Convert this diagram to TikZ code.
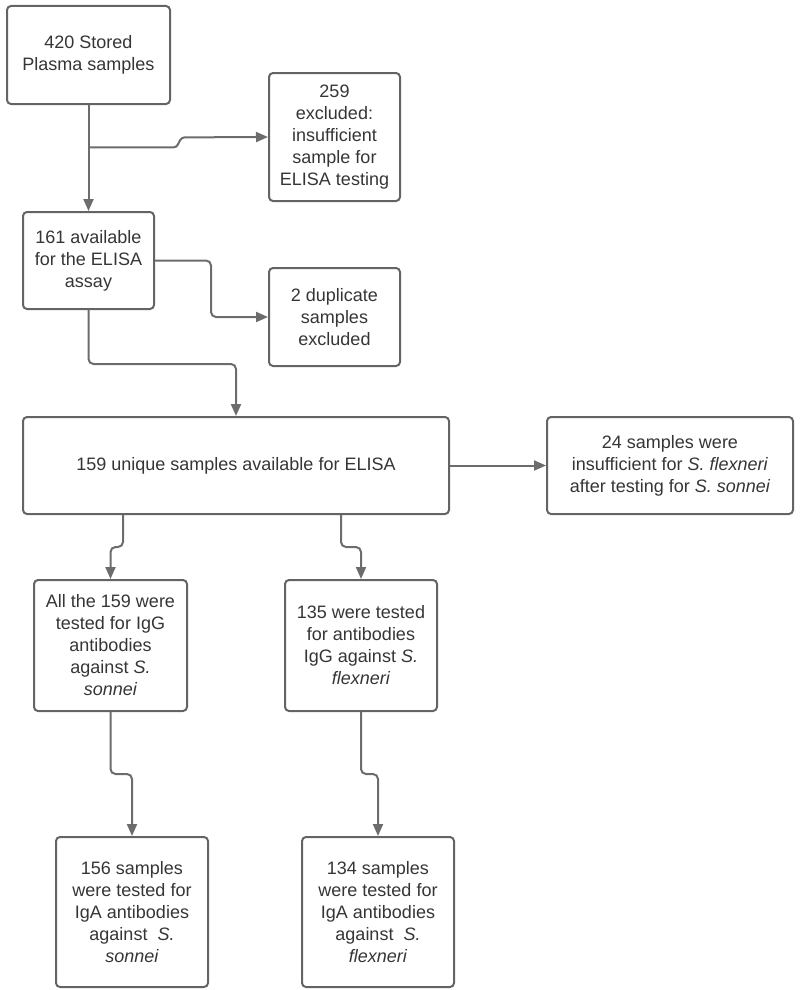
\documentclass[tikz,border=0pt]{standalone}
\usepackage{fontspec}
\setmainfont{Liberation Sans}
\usetikzlibrary{arrows.meta,calc}
\definecolor{txt}{HTML}{353535}
\definecolor{edge}{HTML}{646464}
\definecolor{conn}{HTML}{6C6C6C}
\begin{document}
\begin{tikzpicture}[x=1pt,y=-1pt,
  box/.style={draw=edge,line width=2pt,rounded corners=4pt,inner sep=0pt,align=center,
    text=txt,font=\fontsize{18}{22}\selectfont},
  conn/.style={draw=conn,line width=2pt,rounded corners=5pt,
    -{Triangle[length=12pt,width=10pt]}}]
\useasboundingbox (0,0) rectangle (800,990);
\node[box,minimum width=163pt,minimum height=98pt] (n1) at (88.5,55) {420 Stored\\Plasma samples};
\node[box,minimum width=131pt,minimum height=128pt] (n2) at (334.5,137) {259\\excluded:\\insufficient\\sample for\\ELISA testing};
\node[box,minimum width=131pt,minimum height=97pt] (n3) at (88.5,260.5) {161 available\\for the ELISA\\assay};
\node[box,minimum width=131pt,minimum height=98pt] (n4) at (334.5,317) {2 duplicate\\samples\\excluded};
\node[box,minimum width=426pt,minimum height=97pt] (n5) at (236,465.5) {159 unique samples available for ELISA};
\node[box,minimum width=246pt,minimum height=97pt] (n6) at (670,465.5) {24 samples were\\insufficient for \textit{S. flexneri}\\after testing for \textit{S. sonnei}};
\node[box,minimum width=153pt,minimum height=131pt] (n7) at (110.5,645.5) {All the 159 were\\tested for IgG\\antibodies\\against \textit{S.}\\\textit{sonnei}};
\node[box,minimum width=152pt,minimum height=131pt] (n8) at (361,645.5) {135 were tested\\for antibodies\\IgG against \textit{S.}\\\textit{flexneri}};
\node[box,minimum width=152pt,minimum height=150pt] (n9) at (132,912) {156 samples\\were tested for\\IgA antibodies\\against~~\textit{S.}\\\textit{sonnei}};
\node[box,minimum width=152pt,minimum height=150pt] (n10) at (378,912) {134 samples\\were tested for\\IgA antibodies\\against~~\textit{S.}\\\textit{flexneri}};
% connectors
\draw[conn] (n1.south) -- (n3.north);
\coordinate (j1) at ($(n1.south)!0.4!(n3.north)$);
\draw[conn,rounded corners=3pt] (j1) -- ++(88,0) -- ++(5,-10) -- (n2.west);
\draw[conn] (n3.east) -- ++(56,0) |- (n4.west);
\draw[conn] (n3.south) -- ++(0,54) -| (n5.north);
\draw[conn] (n5.east) -- (n6.west);
\draw[conn] ($(n5.south west)+(101,0)$) -- ++(0,32) -| (n7.north);
\draw[conn] ($(n5.south west)+(319,0)$) -- ++(0,32) -| (n8.north);
\draw[conn] (n7.south) -- ++(0,62) -| (n9.north);
\draw[conn] (n8.south) -- ++(0,62) -| (n10.north);
\end{tikzpicture}
\end{document}
